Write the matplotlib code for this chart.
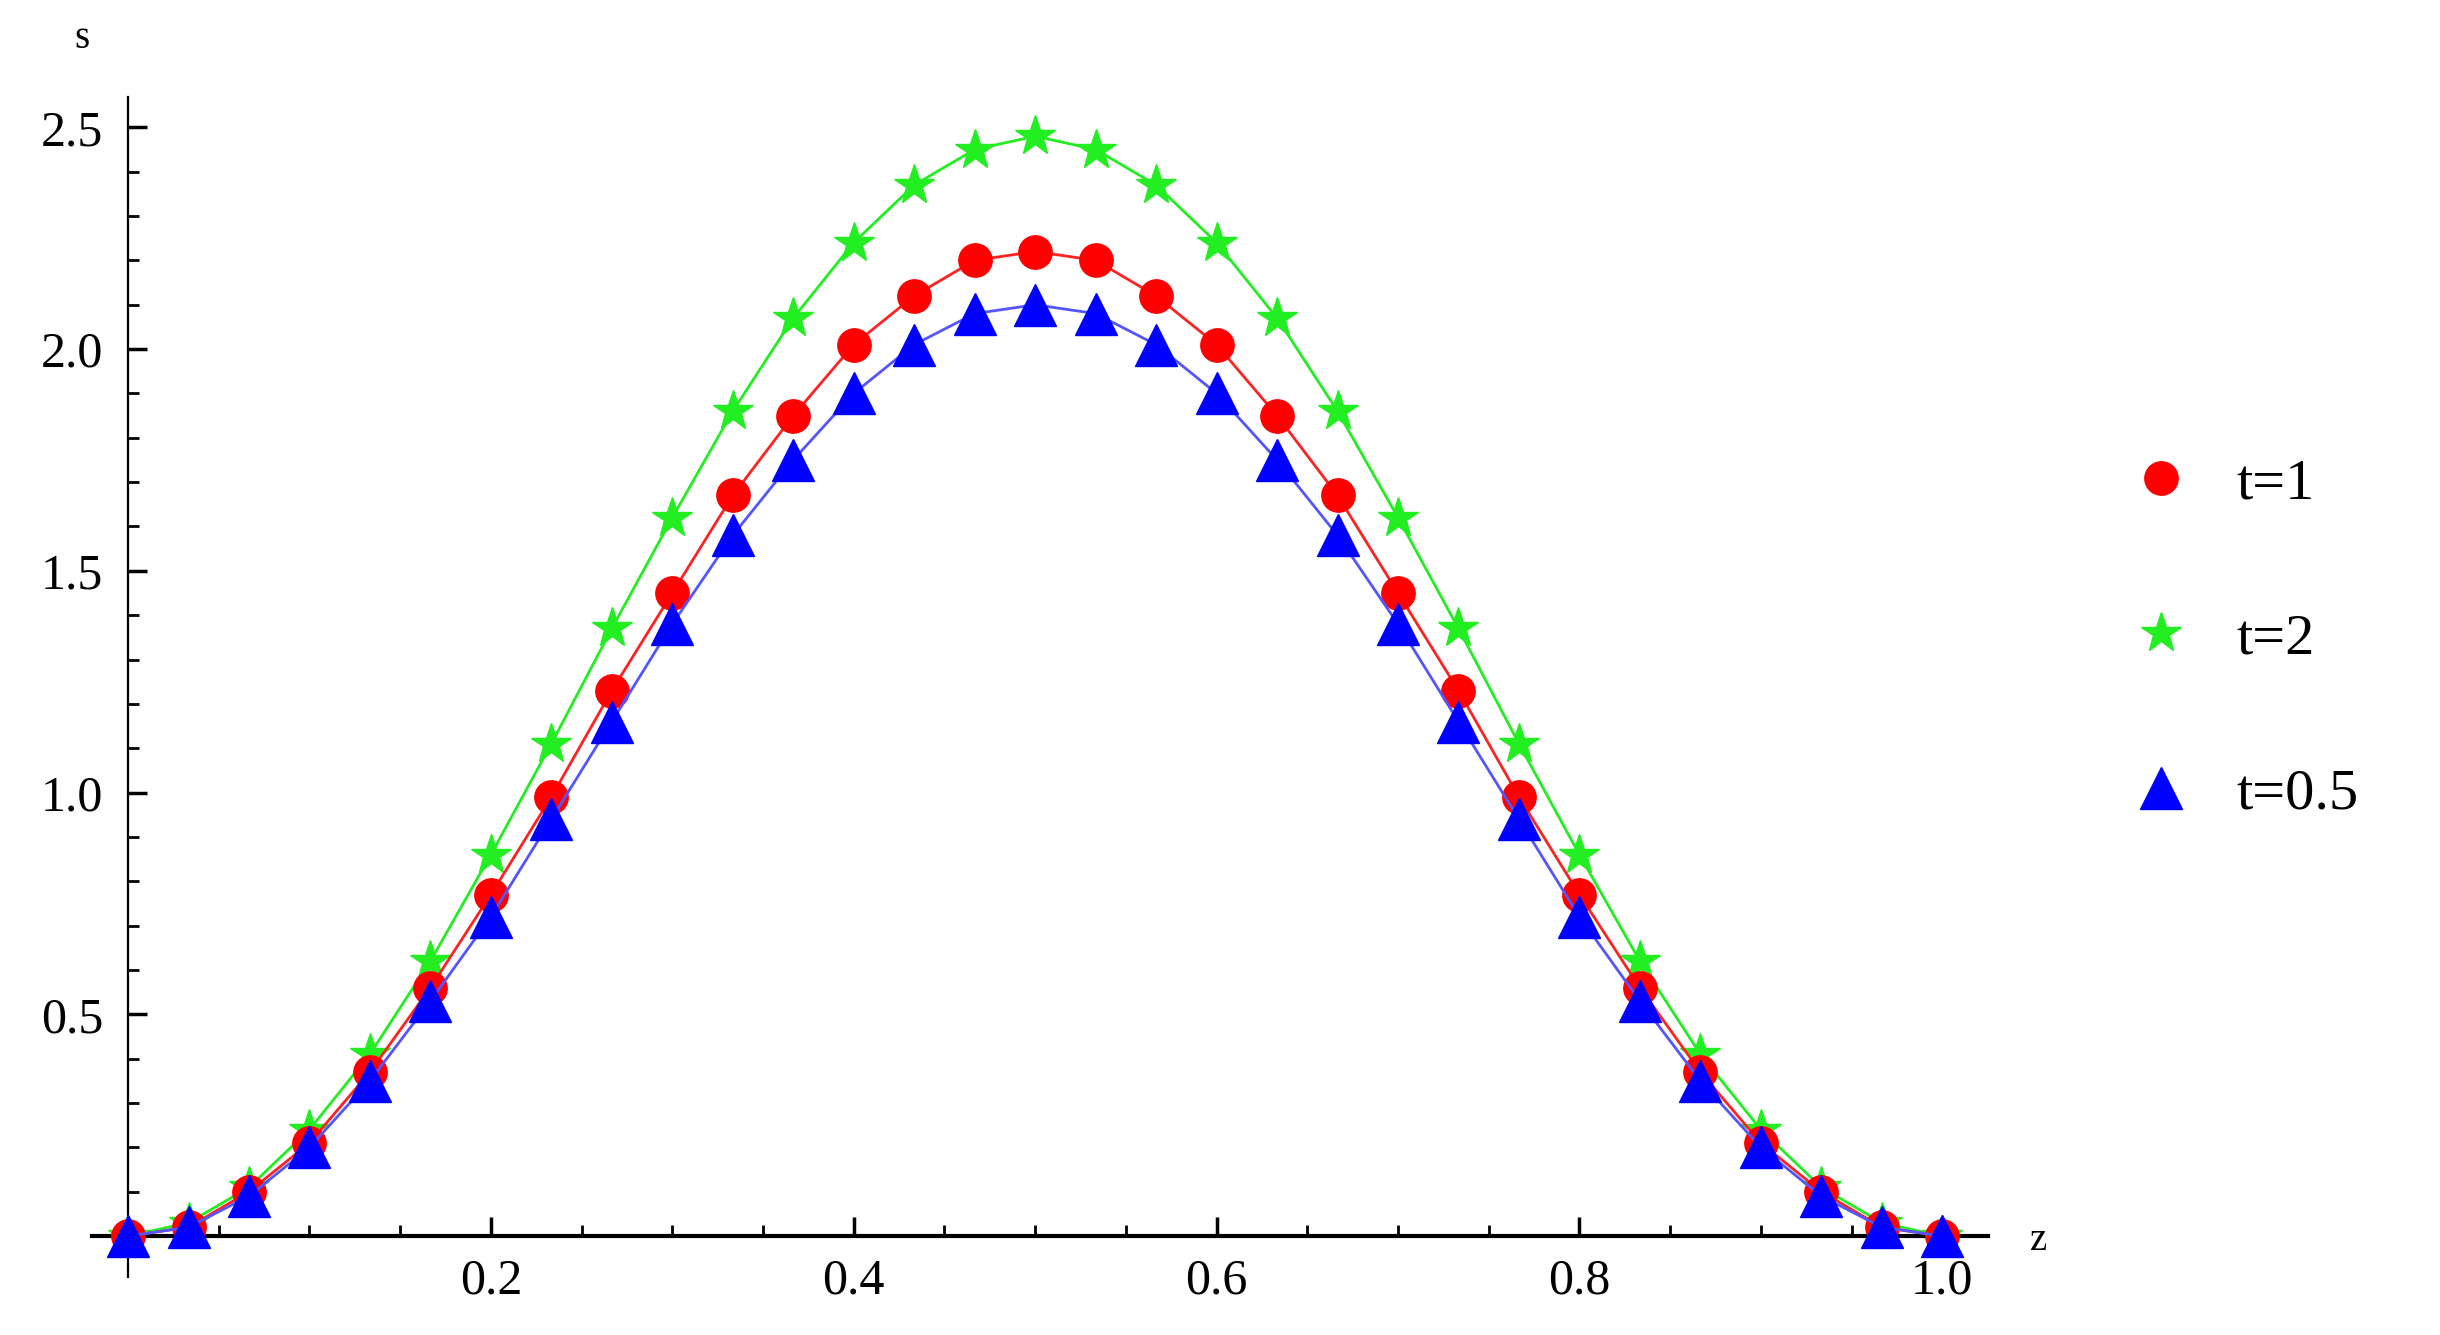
import numpy as np
import matplotlib.pyplot as plt
from matplotlib.lines import Line2D
from matplotlib.ticker import MultipleLocator, FixedLocator

# sample points z = k/30
z = np.arange(31) / 30.0

half_t1 = [0, 0.02, 0.10, 0.21, 0.37, 0.56, 0.77, 0.99, 1.23, 1.45, 1.67, 1.85, 2.01, 2.12, 2.20, 2.22]
half_t2 = [0, 0.03, 0.11, 0.24, 0.41, 0.62, 0.86, 1.11, 1.37, 1.62, 1.86, 2.07, 2.24, 2.37, 2.45, 2.48]
half_t05 = [0, 0.02, 0.09, 0.20, 0.35, 0.53, 0.72, 0.94, 1.16, 1.38, 1.58, 1.75, 1.90, 2.01, 2.08, 2.10]

# profiles are symmetric about z = 0.5
s_t1 = half_t1 + half_t1[-2::-1]
s_t2 = half_t2 + half_t2[-2::-1]
s_t05 = half_t05 + half_t05[-2::-1]

plt.rcParams['font.family'] = ['Liberation Serif', 'DejaVu Serif']

fig = plt.figure(figsize=(24.4, 13.35), dpi=100)
ax = fig.add_axes([0.0376, 0.0432, 0.777, 0.884])

ax.plot(z, s_t2, '-', color='#22ee22', lw=2, marker='*', ms=30, mec='#22ee22', mfc='#22ee22', clip_on=False, zorder=3)
ax.plot(z, s_t1, '-', color='#ff2222', lw=2, marker='o', ms=24, mec='#ff0000', mfc='#ff0000', clip_on=False, zorder=4)
ax.plot(z, s_t05, '-', color='#5555ff', lw=2, marker='^', ms=30, mec='#0000ff', mfc='#0000ff', clip_on=False, zorder=5)

ax.set_xlim(-0.02, 1.025)
ax.set_ylim(-0.093, 2.568)

for side in ['top', 'right']:
    ax.spines[side].set_visible(False)
ax.spines['left'].set_position(('data', 0))
ax.spines['bottom'].set_position(('data', 0))
ax.spines['left'].set_linewidth(1.6)
ax.spines['bottom'].set_linewidth(3)

ax.xaxis.set_major_locator(FixedLocator([0.2, 0.4, 0.6, 0.8, 1.0]))
ax.xaxis.set_minor_locator(MultipleLocator(0.05))
ax.yaxis.set_major_locator(FixedLocator([0.5, 1.0, 1.5, 2.0, 2.5]))
ax.yaxis.set_minor_locator(MultipleLocator(0.1))
ax.set_xticklabels(['0.2', '0.4', '0.6', '0.8', '1.0'])
ax.set_yticklabels(['0.5', '1.0', '1.5', '2.0', '2.5'])
ax.tick_params(axis='both', which='major', direction='in', length=14, width=2.5, labelsize=36)
ax.tick_params(axis='both', which='minor', direction='in', length=8, width=2)
ax.tick_params(axis='x', which='major', pad=16)
ax.tick_params(axis='y', which='major', pad=18)

fig.text(82 / 2440, 1 - 38 / 1335, 's', fontsize=28, ha='center', va='center')
fig.text(2039 / 2440, 1 - 1240 / 1335, 'z', fontsize=28, ha='center', va='center')

handles = [
    Line2D([], [], ls='none', marker='o', ms=24, color='#ff0000'),
    Line2D([], [], ls='none', marker='*', ms=30, color='#22ee22'),
    Line2D([], [], ls='none', marker='^', ms=30, color='#0000ff'),
]
fig.legend(handles, ['t=1', 't=2', 't=0.5'], loc='upper left',
           bbox_to_anchor=(2050 / 2440, 1 - 405 / 1335), frameon=False,
           fontsize=42, labelspacing=1.75, handletextpad=0.3, numpoints=1)

fig.savefig('out.png', dpi=100, facecolor='white')
